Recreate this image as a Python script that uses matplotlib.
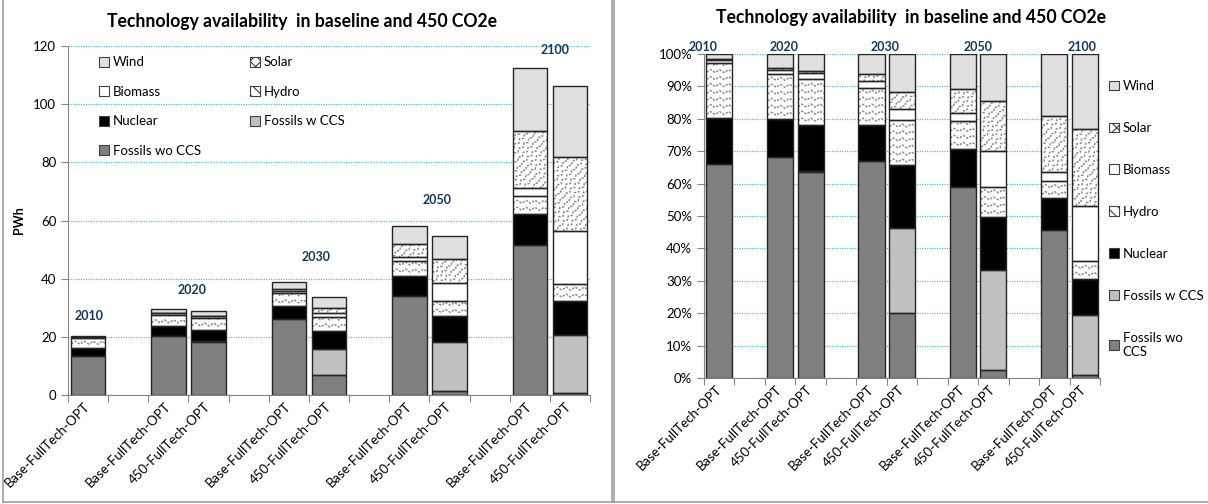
import matplotlib
matplotlib.use("Agg")
import matplotlib.pyplot as plt
import numpy as np
from matplotlib.patches import Patch
from matplotlib.collections import LineCollection
from matplotlib.lines import Line2D
from matplotlib.ticker import PercentFormatter

plt.rcParams["font.family"] = ["Lato", "DejaVu Sans"]
plt.rcParams["hatch.color"] = "#808080"
plt.rcParams["hatch.linewidth"] = 0.8

# scenario slots (empty slots = gaps between years)
scenarios = ["Base-FullTech-OPT", "", "Base-FullTech-OPT", "450-FullTech-OPT", "",
             "Base-FullTech-OPT", "450-FullTech-OPT", "",
             "Base-FullTech-OPT", "450-FullTech-OPT", "",
             "Base-FullTech-OPT", "450-FullTech-OPT"]
nan = np.nan
# PWh
fossils_wo = [13.40, nan, 20.15, 18.29, nan, 26.09, 6.79, nan, 34.16, 1.32, nan, 51.43, 0.85]
fossils_w = [0.00, nan, 0.00, 0.14, nan, 0.00, 8.86, nan, 0.00, 16.88, nan, 0.00, 19.63]
nuclear = [2.86, nan, 3.45, 4.09, nan, 4.41, 6.52, nan, 6.91, 8.99, nan, 10.89, 11.99]
hydro = [3.45, nan, 4.07, 4.06, nan, 4.41, 4.77, nan, 5.05, 5.04, nan, 6.06, 5.73]
biomass = [0.16, nan, 0.38, 0.52, nan, 0.90, 1.15, nan, 1.39, 6.25, nan, 2.92, 18.04]
solar = [0.10, nan, 0.21, 0.23, nan, 0.78, 1.79, nan, 4.30, 8.44, nan, 19.43, 25.46]
wind = [0.30, nan, 1.24, 1.47, nan, 2.42, 3.92, nan, 6.27, 7.89, nan, 21.56, 24.40]

years = ["2010", "2020", "2030", "2050", "2100"]

title = "Technology availability  in baseline and 450 CO2e"
year_color = "#17375E"
grid_color = "#4FC1EE"
axis_color = "#868686"

series = [
    ("Fossils wo CCS", fossils_wo, "#808080", None),
    ("Fossils w CCS", fossils_w, "#C0C0C0", None),
    ("Nuclear", nuclear, "#000000", None),
    ("Hydro", hydro, "#FFFFFF", "zigzag"),
    ("Biomass", biomass, "#FFFFFF", None),
    ("Solar", solar, "#FFFFFF", "weave"),
    ("Wind", wind, "#E0E0E0", None),
]
legend_hatch = {"Hydro": "\\\\\\", "Solar": "xxx"}


def add_pattern(ax, bar, kind):
    # draw Excel-like zigzag patterns, clipped to the bar
    x0, y0 = bar.get_x(), bar.get_y()
    w, h = bar.get_width(), bar.get_height()
    p0 = ax.transData.transform((0, 0))
    p1 = ax.transData.transform((1, 1))
    sx = 1.0 / (p1[0] - p0[0])
    sy = 1.0 / (p1[1] - p0[1])
    wpx, hpx = w / sx, h / sy
    segs = []
    if kind == "zigzag":
        period, amp, gap = 9.0, 3.0, 7.0
        xs = np.arange(-period, wpx + period, period / 2)
        up = np.where(np.arange(len(xs)) % 2 == 0, 0.0, amp)
        for row in np.arange(gap / 2, hpx + gap, gap):
            segs.append(np.column_stack([x0 + xs * sx, y0 + (row + up) * sy]))
    else:
        period, amp, gap = 7.0, 2.5, 6.0
        L = wpx + hpx + 20
        u = np.arange(-L, L, period / 2)
        up = np.where(np.arange(len(u)) % 2 == 0, 0.0, amp)
        for k in np.arange(-L, L, gap):
            v = k + up
            px = (u - v) / np.sqrt(2)
            py = (u + v) / np.sqrt(2)
            segs.append(np.column_stack([x0 + px * sx, y0 + py * sy]))
    lc = LineCollection(segs, colors="#8C8C8C", linewidths=1.1,
                        linestyles=[(0, (1.5, 1))], zorder=2.1)
    ax.add_collection(lc, autolim=False)
    lc.set_clip_path(bar)


def draw_stack(ax, pct):
    x = np.arange(len(scenarios))
    vals = np.array([s[1] for s in series], dtype=float)
    if pct:
        vals = vals / np.nansum(vals, axis=0) * 100
    bottom = np.zeros(len(scenarios))
    for (name, _, color, pat), v in zip(series, vals):
        m = ~np.isnan(v) & (v > 0)
        bars = ax.bar(x[m], v[m], bottom=bottom[m], width=0.86, color=color,
                      linewidth=0, zorder=2)
        if pat:
            for b in bars:
                add_pattern(ax, b, pat)
        ax.bar(x[m], v[m], bottom=bottom[m], width=0.86, fill=False,
               edgecolor="#262626", linewidth=1.0, zorder=2.2)
        bottom = bottom + np.nan_to_num(v)


def style_axes(ax):
    ax.set_xlim(-0.5, len(scenarios) - 0.5)
    for s in ["top", "right"]:
        ax.spines[s].set_visible(False)
    for s in ["left", "bottom"]:
        ax.spines[s].set_color(axis_color)
    ax.set_xticks(np.arange(-0.5, len(scenarios), 1.0))
    ax.set_xticklabels([])
    ax.set_xticks(np.arange(len(scenarios)), scenarios, minor=True)
    ax.tick_params(axis="x", which="major", length=5, color=axis_color)
    ax.tick_params(axis="x", which="minor", length=0, pad=7)
    for lab in ax.get_xticklabels(minor=True):
        lab.set_rotation(45)
        lab.set_ha("right")
        lab.set_va("center")
        lab.set_rotation_mode("anchor")
        lab.set_fontsize(9.5)
    ax.tick_params(axis="y", length=5, color=axis_color, labelsize=9.5)
    ax.yaxis.grid(True, color=grid_color, linestyle=(0, (1, 1)), linewidth=0.9)
    ax.set_axisbelow(True)


fig = plt.figure(figsize=(12.08, 5.04), dpi=100)

# left: absolute values
ax1 = fig.add_axes([68 / 1208, 1 - 395 / 504, 522 / 1208, 349 / 504])
ax1.set_ylim(0, 120)
ax1.set_yticks(np.arange(0, 121, 20))
style_axes(ax1)
draw_stack(ax1, pct=False)
ax1.set_ylabel("PWh", fontsize=9, fontweight="bold", labelpad=6)

left_year_x = [0.02, 2.6, 5.69, 8.68, 11.64]
left_year_y = [27, 36, 47.5, 67, 118.6]
for yr, xx, yy in zip(years, left_year_x, left_year_y):
    ax1.text(xx, yy, yr, color=year_color, fontsize=9, fontweight="bold",
             ha="center", va="center")

handles = {name: Patch(facecolor=color, edgecolor="#404040", linewidth=0.8,
                       hatch=legend_hatch.get(name))
           for name, _, color, _ in series}
order = ["Wind", "Biomass", "Nuclear", "Fossils wo CCS", "Solar", "Hydro", "Fossils w CCS"]
ax1.legend([handles[n] for n in order], order, ncol=2, loc="upper left",
           bbox_to_anchor=(0.06, 0.97), frameon=False, fontsize=9.5,
           handlelength=0.75, handleheight=0.75, handletextpad=0.3,
           labelspacing=1.32, columnspacing=3.7, borderpad=0, borderaxespad=0)

# right: shares
ax2 = fig.add_axes([704 / 1208, 1 - 378 / 504, 396 / 1208, 324 / 504])
ax2.set_ylim(0, 100)
ax2.set_yticks(np.arange(0, 101, 10))
ax2.yaxis.set_major_formatter(PercentFormatter(decimals=0))
style_axes(ax2)
draw_stack(ax2, pct=True)

right_year_x = [-0.53, 2.12, 5.43, 8.5, 11.9]
for yr, xx in zip(years, right_year_x):
    ax2.text(xx, 102.2, yr, color=year_color, fontsize=9, fontweight="bold",
             ha="center", va="center")

rorder = ["Wind", "Solar", "Biomass", "Hydro", "Nuclear", "Fossils w CCS", "Fossils wo CCS"]
rlabels = [n if n != "Fossils wo CCS" else "Fossils wo\nCCS" for n in rorder]
fig.legend([handles[n] for n in rorder], rlabels, loc="upper left",
           bbox_to_anchor=(1109 / 1208, 1 - 80 / 504), frameon=False, fontsize=9.5,
           handlelength=0.75, handleheight=0.75, handletextpad=0.3,
           labelspacing=2.27, borderpad=0, borderaxespad=0)

fig.text(302 / 1208, 1 - 22 / 504, title, fontsize=12.7, fontweight="bold",
         ha="center", va="center")
fig.text(911 / 1208, 1 - 18 / 504, title, fontsize=12.7, fontweight="bold",
         ha="center", va="center")

# panel borders
for xs, ys in [([3, 3], [0, 502]), ([3, 1207], [502, 502]), ([612, 612], [0, 502]),
               ([614, 614], [0, 502])]:
    fig.add_artist(Line2D([x / 1208 for x in xs], [1 - y / 504 for y in ys],
                          color="#A0A0A0", linewidth=1.2))

fig.savefig("out.png", dpi=100)
